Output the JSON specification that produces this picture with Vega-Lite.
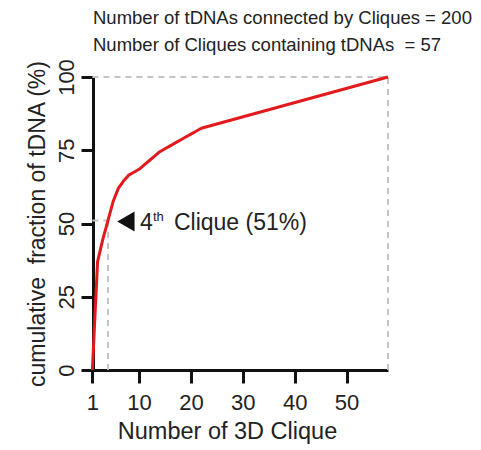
{
  "$schema": "https://vega.github.io/schema/vega-lite/v6.json",
  "autosize": {"type": "none"},
  "width": 306,
  "height": 293,
  "padding": {"left": 82, "top": 77, "right": 93, "bottom": 80},
  "background": "white",
  "config": {
    "font": "Liberation Sans",
    "view": {"stroke": null}
  },
  "title": {
    "text": ["Number of tDNAs connected by Cliques = 200", "Number of Cliques containing tDNAs \u00a0= 57"],
    "anchor": "start",
    "frame": "group",
    "dx": 11,
    "offset": -11,
    "font": "Liberation Sans",
    "fontSize": 18.5,
    "fontWeight": "normal",
    "color": "#222",
    "lineHeight": 26.7,
    "baseline": "alphabetic"
  },
  "datasets": {
    "curve": [
      {"clique": 1, "pct": 0},
      {"clique": 2, "pct": 37},
      {"clique": 3, "pct": 44.5},
      {"clique": 4, "pct": 51},
      {"clique": 5, "pct": 57.5},
      {"clique": 6, "pct": 62},
      {"clique": 7, "pct": 64.5},
      {"clique": 8, "pct": 66.5},
      {"clique": 9, "pct": 67.5},
      {"clique": 10, "pct": 68.5},
      {"clique": 11, "pct": 70},
      {"clique": 12, "pct": 71.5},
      {"clique": 13, "pct": 73},
      {"clique": 14, "pct": 74.5},
      {"clique": 15, "pct": 75.5},
      {"clique": 16, "pct": 76.5},
      {"clique": 17, "pct": 77.5},
      {"clique": 18, "pct": 78.5},
      {"clique": 19, "pct": 79.5},
      {"clique": 20, "pct": 80.5},
      {"clique": 21, "pct": 81.5},
      {"clique": 22, "pct": 82.5},
      {"clique": 58, "pct": 100}
    ],
    "guides": [
      {"clique": 1, "clique_end": 58, "pct": 100, "pct_end": 100},
      {"clique": 58, "clique_end": 58, "pct": 0, "pct_end": 100},
      {"clique": 4, "clique_end": 4, "pct": 0, "pct_end": 51},
      {"clique": 1, "clique_end": 4, "pct": 51, "pct_end": 51}
    ],
    "marker": [{"clique": 4, "pct": 51}]
  },
  "encoding": {
    "x": {
      "field": "clique",
      "type": "quantitative",
      "scale": {"domain": [-1, 58], "nice": false},
      "axis": {
        "values": [1, 10, 20, 30, 40, 50],
        "title": "Number of 3D Clique",
        "titleX": 145,
        "grid": false,
        "domainColor": "#111",
        "domainWidth": 3,
        "ticks": true,
        "tickColor": "#111",
        "tickWidth": 3,
        "tickSize": 13,
        "labelFont": "Liberation Sans",
        "labelFontSize": 22,
        "labelColor": "#222",
        "labelPadding": 9,
        "labelFlush": false,
        "labelOverlap": false,
        "titleFont": "Liberation Sans",
        "titleFontSize": 23.5,
        "titleFontWeight": "normal",
        "titleColor": "#222",
        "titlePadding": 6
      }
    },
    "y": {
      "field": "pct",
      "type": "quantitative",
      "scale": {"domain": [0, 100], "nice": false},
      "axis": {
        "values": [0, 25, 50, 75, 100],
        "title": "cumulative \u00a0fraction of tDNA (%)",
        "offset": -11,
        "grid": false,
        "domainColor": "#111",
        "domainWidth": 3,
        "ticks": true,
        "tickColor": "#111",
        "tickWidth": 3,
        "tickSize": 12,
        "labelAngle": -90,
        "labelAlign": "center",
        "labelBaseline": "bottom",
        "labelFont": "Liberation Sans",
        "labelFontSize": 22,
        "labelColor": "#222",
        "labelPadding": 3,
        "labelFlush": false,
        "labelOverlap": false,
        "titleFont": "Liberation Sans",
        "titleFontSize": 23,
        "titleFontWeight": "normal",
        "titleColor": "#222",
        "titlePadding": 6
      }
    }
  },
  "layer": [
    {
      "data": {"name": "guides"},
      "mark": {"type": "rule", "color": "#c4c4c4", "strokeWidth": 2, "strokeDash": [6, 5]},
      "encoding": {
        "x2": {"field": "clique_end"},
        "y2": {"field": "pct_end"}
      }
    },
    {
      "data": {"name": "curve"},
      "mark": {"type": "line", "color": "#e31a1c", "strokeWidth": 3, "strokeJoin": "round"},
      "encoding": {}
    },
    {
      "data": {"name": "marker"},
      "mark": {"type": "point", "shape": "triangle-left", "size": 400, "filled": true, "color": "#111", "opacity": 1, "xOffset": 18, "yOffset": 1},
      "encoding": {}
    },
    {
      "data": {"name": "marker"},
      "mark": {"type": "text", "text": "4", "align": "left", "baseline": "alphabetic", "dx": 32, "dy": 9.5, "fontSize": 23, "color": "#222", "font": "Liberation Sans"},
      "encoding": {}
    },
    {
      "data": {"name": "marker"},
      "mark": {"type": "text", "text": "th", "align": "left", "baseline": "alphabetic", "dx": 45, "dy": 0, "fontSize": 13, "color": "#222", "font": "Liberation Sans"},
      "encoding": {}
    },
    {
      "data": {"name": "marker"},
      "mark": {"type": "text", "text": "Clique (51%)", "align": "left", "baseline": "alphabetic", "dx": 66, "dy": 9.5, "fontSize": 23, "color": "#222", "font": "Liberation Sans"},
      "encoding": {}
    }
  ]
}
